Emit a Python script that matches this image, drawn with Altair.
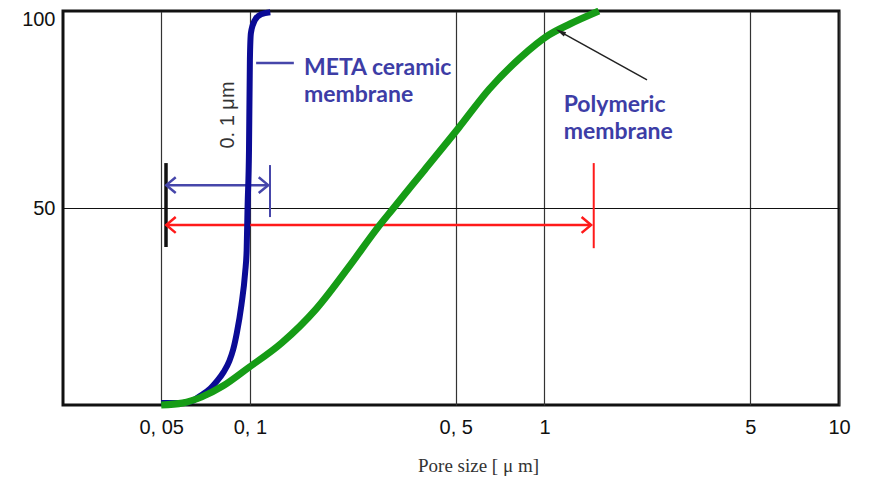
import altair as alt
import pandas as pd

# ---- data ----
# META ceramic membrane (cumulative %, pore size in µm)
meta_size = [0.05, 0.059, 0.0636, 0.0684, 0.0736, 0.0774, 0.0815, 0.0852, 0.0877,
             0.0903, 0.0936, 0.0964, 0.0975, 0.0982, 0.0993, 0.1, 0.1008, 0.104,
             0.1092, 0.1173]
meta_pct = [0.5, 0.5, 1.0, 2.5, 4.3, 6.1, 8.4, 11.2, 14.0,
            18.3, 25.4, 33.8, 39.3, 50.3, 64.7, 87.6, 94.4, 97.7,
            99.2, 99.7]

# Polymeric membrane
poly_size = [0.05, 0.0591, 0.0684, 0.0809, 0.0986, 0.128, 0.168, 0.218, 0.2708,
             0.305, 0.391, 0.511, 0.650, 0.827, 1.034, 1.22, 1.53]
poly_pct = [0.0, 0.5, 2.0, 4.8, 9.4, 15.7, 24.4, 35.3, 44.9,
            49.7, 59.6, 70.3, 80.2, 88.1, 93.9, 96.7, 100.0]

x_ticks = [0.05, 0.1, 0.5, 1, 5, 10]
x_tick_labels = ["0, 05", "0, 1", "0, 5", "1", "5", "10"]
y_ticks = [50, 100]

# annotation segments (data coordinates)
seg_x = [0.0519, 0.052, 0.117, 0.052, 1.47, 0.105, 2.23]
seg_x2 = [0.0519, 0.1154, 0.117, 1.44, 1.47, 0.141, 1.133]
seg_y = [40.1, 55.8, 47.7, 45.7, 39.8, 86.8, 82.5]
seg_y2 = [61.4, 55.8, 60.9, 45.7, 61.4, 86.8, 94.7]
seg_color = ["#111111", "#4646aa", "#4646aa", "#ff1a1a", "#ff1a1a", "#4646aa", "#222222"]
seg_width = [3.5, 2.5, 2.0, 2.5, 2.0, 2.5, 1.5]

# open arrowheads
head_x = [0.052, 0.1154, 0.052, 1.44]
head_y = [55.8, 55.8, 45.7, 45.7]
head_dir = ["left", "right", "left", "right"]
head_color = ["#4646aa", "#4646aa", "#ff1a1a", "#ff1a1a"]

# pointer head
ptr_x = [1.133]
ptr_y = [94.7]
ptr_angle = [299]

# labels
lab_text = ["META ceramic", "membrane", "Polymeric", "membrane"]
lab_x = [0.1526, 0.1526, 1.162, 1.162]
lab_y = [85.5, 78.7, 76.1, 69.3]

rot_text = ["0. 1 μm"]
rot_x = [0.084]
rot_y = [73.6]

# ---- build tables ----
meta_df = pd.DataFrame({"x": meta_size, "y": meta_pct})
poly_df = pd.DataFrame({"x": poly_size, "y": poly_pct})
segs = pd.DataFrame({"x": seg_x, "x2": seg_x2, "y": seg_y, "y2": seg_y2,
                     "color": seg_color, "w": seg_width})
shape_map = {"left": "M1.2,-1L0,0L1.2,1", "right": "M-1.2,-1L0,0L-1.2,1"}
heads = pd.DataFrame({"x": head_x, "y": head_y,
                      "shape": [shape_map[d] for d in head_dir], "color": head_color})
ptr = pd.DataFrame({"x": ptr_x, "y": ptr_y, "angle": ptr_angle})
labs = pd.DataFrame({"t": lab_text, "x": lab_x, "y": lab_y})
rot = pd.DataFrame({"t": rot_text, "x": rot_x, "y": rot_y})

expr = "''"
for v, l in reversed(list(zip(x_ticks, x_tick_labels))):
    expr = f"abs(datum.value - {v}) < 1e-9 ? '{l}' : ({expr})"

xscale = alt.Scale(type="log", domain=[0.0232, 10], nice=False)
yscale = alt.Scale(domain=[0, 100], nice=False)

xaxis = alt.Axis(values=x_ticks, labelExpr=expr, grid=True, gridColor="#333333",
                 gridWidth=1.2, ticks=False, domain=False, labelFlush=False,
                 labelOverlap=False, labelFont="Liberation Sans", labelFontSize=20,
                 labelColor="#111111", labelPadding=12, title="Pore size [ μ m]",
                 titleFont="Liberation Serif", titleFontSize=19, titleFontWeight="normal",
                 titleColor="#333333", titleX=415, titleY=51, titleBaseline="top",
                 titleAnchor="middle")
yaxis = alt.Axis(values=y_ticks, grid=True, gridColor="#111111", gridWidth=1.2,
                 ticks=False, domain=False, labelFont="Liberation Sans",
                 labelFontSize=20, labelColor="#111111", labelPadding=8, title=None,
                 labelFlush=False, labelOverlap=False,
                 labelOffset=alt.condition("datum.value == 100", alt.value(8), alt.value(0)))


def X():
    return alt.X("x:Q", scale=xscale, axis=xaxis)


def Y():
    return alt.Y("y:Q", scale=yscale, axis=yaxis)


seg_layer = alt.Chart(segs).mark_rule().encode(
    x=X(), x2="x2:Q", y=Y(), y2="y2:Q",
    color=alt.Color("color:N", scale=None),
    strokeWidth=alt.StrokeWidth("w:Q", scale=None),
)

head_layer = alt.Chart(heads).mark_point(filled=False, strokeWidth=2.5, size=250, opacity=1).encode(
    x=X(), y=Y(),
    shape=alt.Shape("shape:N", scale=None),
    color=alt.Color("color:N", scale=None),
)

ptr_layer = alt.Chart(ptr).mark_point(filled=True, shape="M0,-1L-0.45,1L0.45,1Z",
                                      size=110, color="#222222", opacity=1).encode(
    x=X(), y=Y(),
    angle=alt.Angle("angle:Q", scale=None),
)

meta_line = alt.Chart(meta_df).mark_line(
    interpolate="monotone", color="#0b0b96", strokeWidth=6).encode(x=X(), y=Y())
poly_line = alt.Chart(poly_df).mark_line(
    interpolate="monotone", color="#169c16", strokeWidth=7).encode(x=X(), y=Y())

lab_layer = alt.Chart(labs).mark_text(align="left", baseline="middle", font="Lato",
                                      fontWeight="bold", fontSize=23, color="#3d3da6").encode(
    x=X(), y=Y(), text="t:N",
)

rot_layer = alt.Chart(rot).mark_text(align="center", baseline="middle", angle=270,
                                     font="Liberation Sans", fontSize=20, color="#333333").encode(
    x=X(), y=Y(), text="t:N",
)

chart = alt.layer(
    seg_layer, head_layer, meta_line, poly_line, ptr_layer, lab_layer, rot_layer
).properties(
    width=776, height=394,
    background="white",
    autosize=alt.AutoSizeParams(type="none"),
    padding={"left": 55, "top": 3, "right": 20, "bottom": 74},
).configure_view(
    stroke="#111111", strokeWidth=3
)

chart.save("out.html", embed_options={"renderer": "svg", "actions": False})
